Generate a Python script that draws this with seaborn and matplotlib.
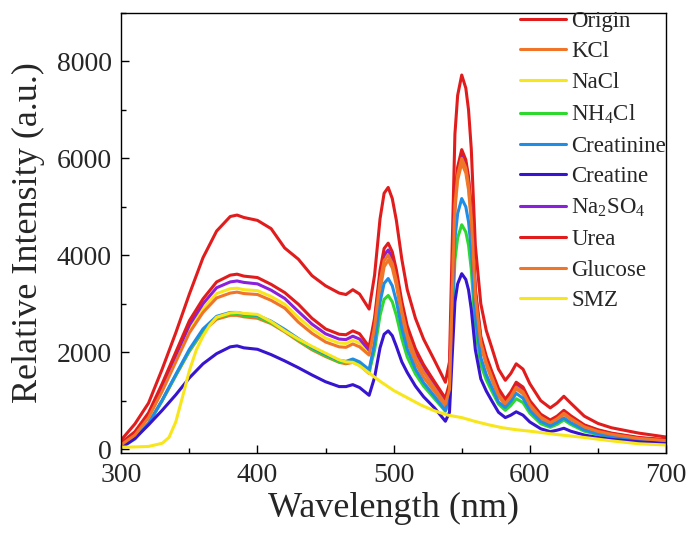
import matplotlib
matplotlib.use("Agg")
import matplotlib.pyplot as plt
from matplotlib.ticker import MultipleLocator, AutoMinorLocator
import seaborn as sns
import pandas as pd

# Emission wavelengths (nm) shared by the Tb-type spectra
wavelength = [300, 310, 320, 330, 340, 350, 360, 370, 380, 385,
              390, 400, 410, 420, 430, 440, 450, 460, 465, 470,
              475, 482, 486, 490, 493, 496, 499, 502, 506, 510,
              516, 522, 530, 538, 541, 543, 545, 547, 550, 553,
              555, 557, 560, 564, 568, 572, 577, 582, 586, 590,
              595, 600, 608, 615, 620, 625, 630, 640, 650, 660,
              680, 700]

origin = [190, 520, 950, 1650, 2400, 3200, 3950, 4500, 4800, 4830,
          4780, 4720, 4550, 4150, 3920, 3580, 3370, 3220, 3190, 3290,
          3200, 2890, 3590, 4750, 5280, 5400, 5170, 4720, 3920, 3290,
          2700, 2270, 1830, 1380, 1800, 4200, 6500, 7300, 7720, 7450,
          7000, 6200, 4200, 3000, 2450, 2100, 1650, 1420, 1560, 1760,
          1650, 1350, 1000, 850, 950, 1090, 950, 680, 530, 440,
          330, 250]

kcl = [60, 230, 540, 1000, 1520, 2020, 2430, 2680, 2760, 2760,
       2730, 2700, 2590, 2420, 2230, 2050, 1910, 1790, 1760, 1790,
       1730, 1560, 2210, 3270, 3760, 3900, 3740, 3380, 2730, 2230,
       1780, 1480, 1190, 890, 1190, 3090, 4950, 5550, 5900, 5700,
       5350, 4700, 3090, 2140, 1740, 1440, 1090, 910, 1050, 1240,
       1140, 890, 640, 525, 605, 715, 615, 445, 355, 295,
       215, 170]

nacl = [100, 310, 680, 1240, 1860, 2470, 2900, 3210, 3310, 3320,
        3290, 3270, 3150, 2990, 2720, 2480, 2290, 2190, 2180, 2250,
        2190, 1990, 2570, 3510, 3940, 4050, 3880, 3520, 2890, 2400,
        1940, 1630, 1290, 960, 1270, 3200, 5080, 5690, 6050, 5850,
        5490, 4830, 3200, 2230, 1830, 1520, 1170, 960, 1100, 1310,
        1210, 940, 675, 560, 640, 755, 650, 470, 375, 310,
        225, 180]

nh4cl = [45, 220, 520, 1000, 1520, 2030, 2450, 2710, 2790, 2790,
         2760, 2730, 2610, 2440, 2250, 2070, 1930, 1800, 1780, 1820,
         1760, 1600, 2040, 2760, 3090, 3170, 3040, 2760, 2280, 1900,
         1550, 1300, 1040, 780, 1010, 2470, 3900, 4360, 4630, 4480,
         4210, 3710, 2470, 1740, 1430, 1200, 930, 800, 900, 1040,
         960, 740, 525, 450, 510, 600, 510, 370, 300, 250,
         185, 150]

creatinine = [30, 210, 530, 1010, 1540, 2060, 2480, 2740, 2820, 2820,
              2790, 2760, 2640, 2470, 2280, 2100, 1960, 1830, 1810, 1860,
              1800, 1640, 2170, 3030, 3420, 3520, 3370, 3050, 2490, 2060,
              1650, 1370, 1090, 800, 1060, 2720, 4340, 4860, 5170, 5000,
              4690, 4120, 2720, 1890, 1540, 1280, 970, 860, 980, 1150,
              1050, 800, 570, 480, 550, 640, 545, 395, 315, 260,
              190, 155]

creatine = [30, 220, 500, 800, 1120, 1470, 1760, 1970, 2110, 2130,
            2090, 2060, 1950, 1820, 1680, 1530, 1390, 1290, 1290, 1330,
            1270, 1110, 1480, 2090, 2370, 2440, 2340, 2120, 1800, 1580,
            1300, 1080, 850, 575, 760, 1920, 3040, 3410, 3620, 3500,
            3285, 2890, 2050, 1450, 1200, 1000, 760, 650, 700, 770,
            700, 560, 420, 360, 390, 430, 370, 290, 240, 200,
            150, 125]

na2so4 = [110, 330, 710, 1290, 1930, 2560, 3000, 3330, 3450, 3470,
          3440, 3410, 3280, 3110, 2840, 2580, 2380, 2270, 2260, 2330,
          2270, 2040, 2620, 3570, 4000, 4110, 3940, 3580, 2940, 2450,
          1990, 1660, 1330, 990, 1300, 3240, 5130, 5740, 6100, 5900,
          5540, 4870, 3240, 2270, 1860, 1550, 1200, 980, 1130, 1340,
          1240, 965, 695, 575, 655, 775, 665, 485, 385, 320,
          230, 185]

urea = [130, 360, 750, 1350, 2000, 2650, 3100, 3450, 3590, 3610,
        3570, 3540, 3400, 3230, 2990, 2700, 2480, 2370, 2360, 2440,
        2380, 2110, 2710, 3690, 4140, 4250, 4070, 3700, 3050, 2540,
        2070, 1740, 1390, 1050, 1360, 3310, 5200, 5820, 6180, 5970,
        5620, 4950, 3310, 2330, 1920, 1610, 1250, 1030, 1180, 1380,
        1280, 1000, 720, 600, 680, 800, 690, 500, 400, 330,
        240, 195]

glucose = [90, 290, 650, 1190, 1800, 2400, 2820, 3120, 3220, 3240,
           3210, 3190, 3070, 2910, 2620, 2390, 2210, 2110, 2100, 2170,
           2110, 1940, 2520, 3460, 3890, 4000, 3830, 3480, 2850, 2360,
           1900, 1590, 1260, 930, 1230, 3160, 5040, 5650, 6000, 5800,
           5440, 4780, 3160, 2200, 1790, 1490, 1130, 940, 1080, 1280,
           1180, 920, 660, 545, 625, 740, 635, 460, 365, 305,
           220, 175]

# SMZ has its own, smooth spectrum without the sharp emission lines
smz_wavelength = [300, 310, 320, 330, 335, 340, 345, 350, 355, 360,
                  365, 370, 380, 385, 390, 400, 410, 420, 430, 440,
                  450, 460, 465, 470, 475, 482, 490, 500, 510, 520,
                  530, 540, 550, 560, 570, 580, 590, 600, 620, 640,
                  660, 680, 700]
smz = [40, 45, 55, 120, 240, 560, 1080, 1620, 2040, 2330,
       2560, 2720, 2810, 2820, 2800, 2780, 2630, 2440, 2270, 2120,
       1980, 1840, 1800, 1790, 1720, 1570, 1400, 1210, 1060, 910,
       790, 700, 650, 570, 500, 440, 400, 370, 300, 240,
       170, 110, 85]

samples = ["Origin", "KCl", "NaCl", "NH$_4$Cl", "Creatinine", "Creatine",
           "Na$_2$SO$_4$", "Urea", "Glucose", "SMZ"]
colors = ["#e11c1c", "#f07528", "#f8e61c", "#2ed82e", "#1f8de6",
          "#3714d0", "#8a1fdc", "#e11c1c", "#f07528", "#f8e61c"]

spectra = [origin, kcl, nacl, nh4cl, creatinine, creatine,
           na2so4, urea, glucose, smz]
grids = [wavelength] * 9 + [smz_wavelength]

df = pd.concat(
    [pd.DataFrame({"Wavelength": wl, "Intensity": vals, "Sample": name})
     for name, wl, vals in zip(samples, grids, spectra)],
    ignore_index=True,
)

sns.set_style("ticks")
plt.rcParams["font.family"] = ["Liberation Serif", "DejaVu Serif"]
plt.rcParams["mathtext.default"] = "regular"
plt.rcParams["axes.edgecolor"] = "black"
plt.rcParams["axes.linewidth"] = 1.0

fig = plt.figure(figsize=(6.9, 5.39), dpi=100)
ax = fig.add_axes([0.1758, 0.1596, 0.7894, 0.8163])

sns.lineplot(data=df, x="Wavelength", y="Intensity", hue="Sample",
             hue_order=samples, palette=colors, linewidth=2.2,
             estimator=None, sort=False, ax=ax)

ax.set_xlim(300, 700)
ax.set_ylim(-80, 9000)
ax.xaxis.set_major_locator(MultipleLocator(100))
ax.xaxis.set_minor_locator(AutoMinorLocator(2))
ax.yaxis.set_major_locator(MultipleLocator(2000))
ax.yaxis.set_minor_locator(AutoMinorLocator(2))
ax.tick_params(which="both", direction="in", top=False, right=False,
               color="black", width=1.0)
ax.tick_params(which="major", length=6, labelsize=20)
ax.tick_params(which="minor", length=3.5)
ax.tick_params(axis="x", which="major", pad=7)
ax.tick_params(axis="y", which="major", pad=7)

ax.set_xlabel("Wavelength (nm)", fontsize=26, labelpad=3)
ax.set_ylabel("Relative Intensity (a.u.)", fontsize=26, labelpad=8)

handles, labels = ax.get_legend_handles_labels()
ax.legend(handles, labels, loc="upper right", bbox_to_anchor=(1.0, 1.005),
          frameon=False, fontsize=16.5, handlelength=2.0, handletextpad=0.25,
          labelspacing=0.42, borderaxespad=0.0, borderpad=0.0)

fig.savefig("out.png", dpi=100)
